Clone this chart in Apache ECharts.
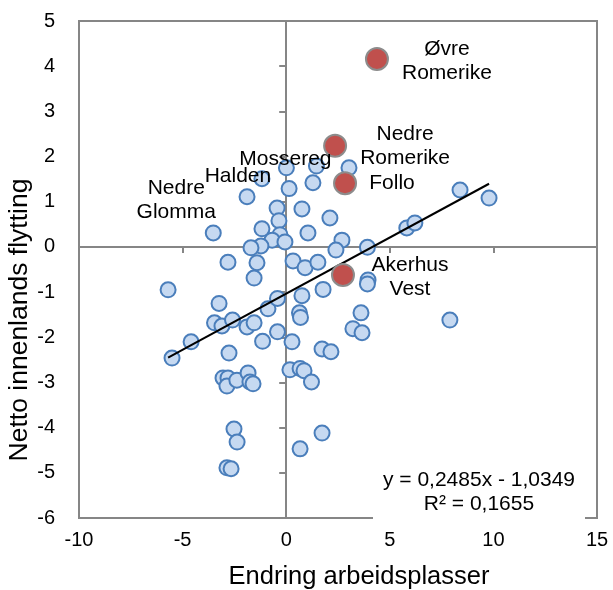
<!DOCTYPE html>
<html>
<head>
<meta charset="utf-8">
<script src="https://cdn.jsdelivr.net/npm/echarts@6/dist/echarts.min.js"></script>
<style>html,body{margin:0;padding:0;background:#fff}#c{width:613px;height:590px}</style>
</head>
<body>
<div id="c"></div>
<script>
// ---- data ----
const xTitle = 'Endring arbeidsplasser';
const yTitle = 'Netto innenlands flytting';
const xTicks = [-10, -5, 0, 5, 10, 15];
const yTicks = [-6, -5, -4, -3, -2, -1, 0, 1, 2, 3, 4, 5];
const blueX = [-3.52,-1.89,-1.17,0.01,0.14,1.46,3.03,1.29,-0.44,0.76,2.11,-0.35,1.05,2.69,2.40,3.92,-0.30,-0.68,-0.06,-1.22,-1.70,-1.17,-2.81,-1.41,0.33,0.91,1.53,-1.55,-5.70,-3.24,-3.46,-3.10,-2.59,-1.89,-1.55,-0.88,-0.42,-4.59,-5.51,-2.76,-1.14,-0.42,0.28,0.76,0.64,0.69,1.78,1.73,2.16,0.18,0.67,0.86,1.22,-3.05,-2.81,-2.86,-2.38,-1.84,-1.75,-1.60,-2.52,-2.37,-2.86,-2.66,0.67,1.73,3.95,3.92,3.61,3.22,3.66,7.90,8.39,9.79,5.82,6.21];
const blueY = [0.31,1.11,1.51,1.75,1.29,1.79,1.75,1.42,0.86,0.84,0.64,0.58,0.31,0.15,-0.07,-0.01,0.27,0.15,0.11,0.02,-0.02,0.40,-0.34,-0.35,-0.31,-0.46,-0.34,-0.69,-0.95,-1.25,-1.68,-1.75,-1.62,-1.77,-1.68,-1.37,-1.14,-2.10,-2.46,-2.35,-2.09,-1.88,-2.10,-1.08,-1.46,-1.56,-0.94,-2.26,-2.32,-2.72,-2.69,-2.74,-2.99,-2.90,-2.90,-3.08,-2.95,-2.79,-2.99,-3.03,-4.03,-4.32,-4.89,-4.91,-4.47,-4.12,-0.73,-0.82,-1.46,-1.81,-1.90,-1.62,1.26,1.08,0.42,0.53];
const blueLabelNames = ['Nedre\nGlomma', 'Halden', 'Mossereg'];
const blueLabelIdx = [0, 2, 3];
const redNames = ['Øvre\nRomerike', 'Nedre\nRomerike', 'Follo', 'Akerhus\nVest'];
const redX = [4.38, 2.36, 2.84, 2.74];
const redY = [4.16, 2.24, 1.41, -0.62];
const slope = 0.2485, intercept = -1.0349, r2 = 0.1655;
const eqText = 'y = 0,2485x - 1,0349';
const r2Text = 'R² = 0,1655';

// ---- styles ----
const FONT = '"Liberation Sans", Arial, sans-serif';
const GRAY = '#868686';
const labelOffsets = {
  'Nedre\nGlomma': [-37, -33], 'Halden': [-24, -2], 'Mossereg': [-1, -9],
  'Øvre\nRomerike': [70, 2], 'Nedre\nRomerike': [70, 1], 'Follo': [47, 0], 'Akerhus\nVest': [67, 2]
};

const allX = blueX.concat(redX);
const xMin = Math.min(...allX), xMax = Math.max(...allX);
const trend = [[xMin, slope * xMin + intercept], [xMax, slope * xMax + intercept]];

const blueData = blueX.map((x, i) => [x, blueY[i]]);
const redData = redX.map((x, i) => ({
  value: [x, redY[i]],
  label: { show: true, formatter: redNames[i], position: 'inside', offset: labelOffsets[redNames[i]] }
}));

const labelStyle = { color: '#000', opacity: 1, textBorderWidth: 0, textBorderColor: 'transparent',
  fontSize: 21, fontFamily: FONT, lineHeight: 24, align: 'center', verticalAlign: 'middle' };

const chart = echarts.init(document.getElementById('c'), null, { renderer: 'canvas' });
chart.setOption({
  animation: false,
  backgroundColor: '#fff',
  grid: { left: 79, right: 16, top: 21, bottom: 72, show: true, borderColor: GRAY, borderWidth: 2, containLabel: false },
  xAxis: [
    { type: 'value', min: xTicks[0], max: xTicks[xTicks.length - 1], interval: 5, position: 'bottom',
      axisLine: { show: false, onZero: false }, axisTick: { show: false }, splitLine: { show: false },
      axisLabel: { margin: 12, color: '#000', fontSize: 20, fontFamily: FONT } },
    { type: 'value', min: xTicks[0], max: xTicks[xTicks.length - 1], interval: 5, position: 'top',
      axisLine: { show: true, onZero: true, onZeroAxisIndex: 0, lineStyle: { color: GRAY, width: 2 } },
      axisTick: { show: true, inside: true, length: 6, lineStyle: { color: GRAY, width: 2 } },
      axisLabel: { show: false }, splitLine: { show: false } }
  ],
  yAxis: [
    { type: 'value', min: yTicks[0], max: yTicks[yTicks.length - 1], interval: 1, position: 'left',
      axisLine: { show: false, onZero: false }, axisTick: { show: false }, splitLine: { show: false },
      axisLabel: { margin: 24, color: '#000', fontSize: 20, fontFamily: FONT } },
    { type: 'value', min: yTicks[0], max: yTicks[yTicks.length - 1], interval: 1, position: 'right',
      axisLine: { show: true, onZero: true, onZeroAxisIndex: 0, lineStyle: { color: GRAY, width: 2 } },
      axisTick: { show: true, inside: true, length: 7, lineStyle: { color: GRAY, width: 2 } },
      axisLabel: { show: false }, splitLine: { show: false } }
  ],
  series: [
    { type: 'line', data: trend, xAxisIndex: 0, yAxisIndex: 0, symbol: 'none', z: 4,
      lineStyle: { color: '#000', width: 2 } },
    { type: 'scatter', data: blueData, xAxisIndex: 0, yAxisIndex: 0, symbolSize: 15, z: 3,
      itemStyle: { color: '#C6D9F1', borderColor: '#4A7EBB', borderWidth: 2, opacity: 1 } },
    { type: 'scatter', data: redData, xAxisIndex: 0, yAxisIndex: 0, symbolSize: 22, z: 5,
      itemStyle: { color: '#C0504D', borderColor: '#8C8C8C', borderWidth: 2, opacity: 1 },
      label: labelStyle }
  ]
});

// blue point labels placed at the pixel position of their data points
const gridLabels = blueLabelIdx.map((k, j) => {
  const p = chart.convertToPixel({ xAxisIndex: 0, yAxisIndex: 0 }, [blueX[k], blueY[k]]);
  const off = labelOffsets[blueLabelNames[j]];
  return { type: 'text', x: p[0] + off[0], y: p[1] + off[1], z: 100,
    style: { text: blueLabelNames[j], fill: '#000', font: '21px ' + FONT, lineHeight: 24, align: 'center', verticalAlign: 'middle' } };
});

chart.setOption({
  graphic: gridLabels.concat([
    { type: 'rect', left: 373, top: 466, shape: { width: 212, height: 60 }, style: { fill: '#fff' }, z: 100 },
    { type: 'text', x: 479, y: 480, z: 101, style: { text: eqText, fill: '#000', font: '21px ' + FONT, align: 'center', verticalAlign: 'middle' } },
    { type: 'text', x: 479, y: 504, z: 101, style: { text: r2Text, fill: '#000', font: '21px ' + FONT, align: 'center', verticalAlign: 'middle' } },
    { type: 'text', x: 359, y: 577, z: 101, style: { text: xTitle, fill: '#000', font: '25.5px ' + FONT, align: 'center', verticalAlign: 'middle' } },
    { type: 'text', x: 20, y: 320, rotation: Math.PI / 2, z: 101, style: { text: yTitle, fill: '#000', font: '26.5px ' + FONT, align: 'center', verticalAlign: 'middle' } }
  ])
});
</script>
</body>
</html>
